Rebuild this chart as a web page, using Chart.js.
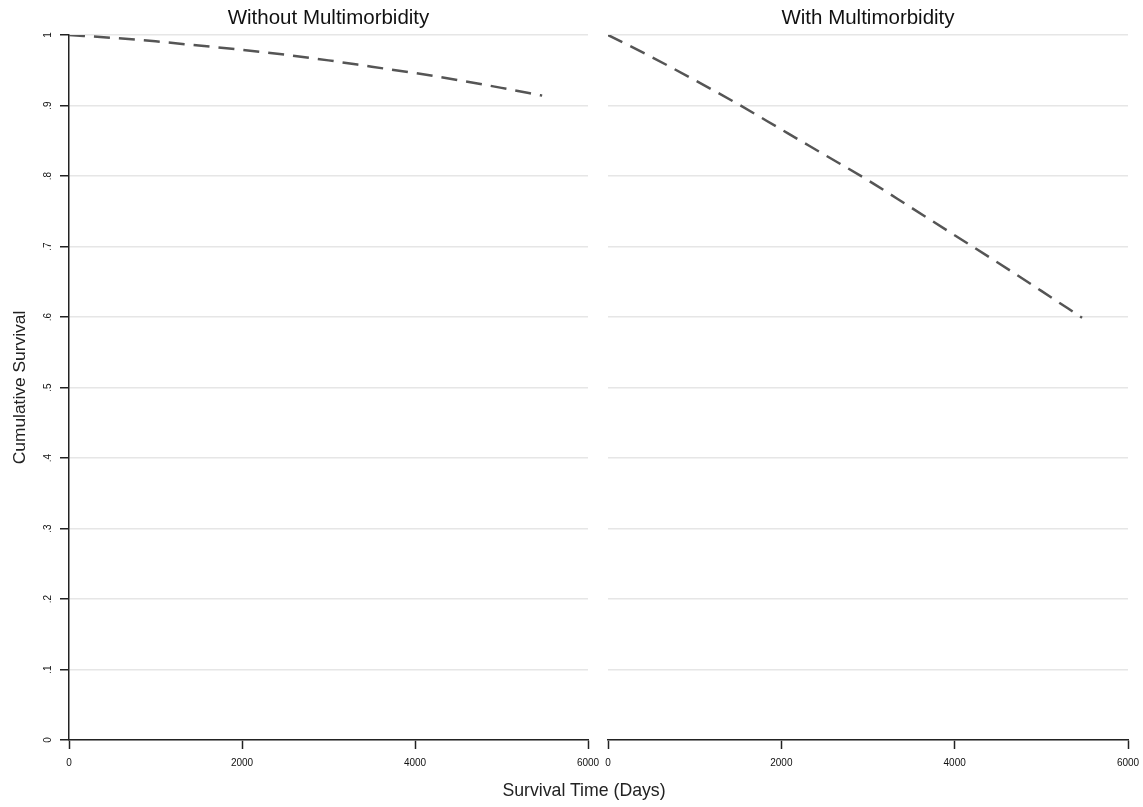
<!DOCTYPE html>
<html lang="en">
<head>
<meta charset="UTF-8">
<title>Cumulative Survival</title>
<script src="https://cdn.jsdelivr.net/npm/chart.js"></script>
<style>
    html, body { margin: 0; padding: 0; background: #fff; }
    body { width: 1143px; height: 807px; position: relative; overflow: hidden; font-family: Arial, "Liberation Sans", sans-serif; }
    canvas { position: absolute; top: 0; }
    #leftWrap { position: absolute; left: 0; top: 0; width: 600px; height: 807px; }
    #rightWrap { position: absolute; left: 596px; top: 0; width: 547px; height: 807px; }
    #xTitle { position: absolute; left: 0; width: 1168px; top: 780px; text-align: center; font-size: 17.7px; line-height: 20px; color: #222; }
</style>
</head>
<body>
<div id="leftWrap"><canvas id="leftChart"></canvas></div>
<div id="rightWrap"><canvas id="rightChart"></canvas></div>
<div id="xTitle">Survival Time (Days)</div>

<script>
    // --- data ---
    const panelTitles = ['Without Multimorbidity', 'With Multimorbidity'];
    const days = [0, 500, 1000, 1500, 2000, 2500, 3000, 3500, 4000, 4500, 5000, 5470];
    const survivalWithout = [1, 0.996, 0.991, 0.985, 0.979, 0.972, 0.964, 0.955, 0.946, 0.936, 0.925, 0.914];
    const survivalWith = [1, 0.969, 0.936, 0.902, 0.866, 0.830, 0.794, 0.755, 0.716, 0.677, 0.637, 0.599];
    const yTickValues = [0, 0.1, 0.2, 0.3, 0.4, 0.5, 0.6, 0.7, 0.8, 0.9, 1];
    const yTickLabels = ['0', '.1', '.2', '.3', '.4', '.5', '.6', '.7', '.8', '.9', '1'];
    const xTickValues = [0, 2000, 4000, 6000];
    const xTickLabels = ['0', '2000', '4000', '6000'];
    const yTitle = 'Cumulative Survival';

    const lineColor = '#555555';
    const gridColor = '#e6e6e6';
    const axisColor = '#222222';
    const fontFamily = 'Arial, "Liberation Sans", sans-serif';

    function toPoints(xs, ys) {
        return xs.map((x, i) => ({ x: x, y: ys[i] }));
    }

    // draws panel title, and for the left panel the rotated y tick labels + y title
    const panelText = {
        id: 'panelText',
        afterDraw(chart, args, opts) {
            const ctx = chart.ctx;
            const area = chart.chartArea;
            ctx.save();
            ctx.fillStyle = '#111';
            ctx.textAlign = 'center';
            ctx.textBaseline = 'middle';
            ctx.font = '20.5px ' + fontFamily;
            ctx.fillText(opts.title, (area.left + area.right) / 2, 18);

            if (opts.yLabels) {
                const ys = chart.scales.y;
                ctx.font = '10px ' + fontFamily;
                yTickValues.forEach((v, i) => {
                    const py = ys.getPixelForValue(v);
                    ctx.save();
                    ctx.translate(48, py);
                    ctx.rotate(-Math.PI / 2);
                    ctx.fillText(yTickLabels[i], 0, 0);
                    ctx.restore();
                });
                ctx.save();
                ctx.font = '17.4px ' + fontFamily;
                ctx.fillStyle = '#222';
                ctx.translate(20, (area.top + area.bottom) / 2);
                ctx.rotate(-Math.PI / 2);
                ctx.fillText(yTitle, 0, 0);
                ctx.restore();
            }
            ctx.restore();
        }
    };

    function makeChart(canvasId, values, title, isLeft) {
        const ctx = document.getElementById(canvasId).getContext('2d');
        return new Chart(ctx, {
            type: 'line',
            data: {
                datasets: [{
                    data: toPoints(days, values),
                    borderColor: lineColor,
                    borderWidth: 2.5,
                    borderDash: [16, 9],
                    pointRadius: 0,
                    fill: false,
                    cubicInterpolationMode: 'monotone'
                }]
            },
            options: {
                responsive: true,
                maintainAspectRatio: false,
                animation: false,
                layout: {
                    padding: isLeft
                        ? { left: 0, right: 12, top: 35, bottom: 37 }
                        : { left: 12, right: 15, top: 35, bottom: 37 }
                },
                plugins: {
                    legend: { display: false },
                    tooltip: { enabled: false },
                    panelText: { title: title, yLabels: isLeft }
                },
                scales: {
                    x: {
                        type: 'linear',
                        min: 0,
                        max: 6000,
                        afterBuildTicks: (scale) => { scale.ticks = xTickValues.map(v => ({ value: v })); },
                        afterFit: (scale) => { scale.height = 30; scale.paddingLeft = 0; scale.paddingRight = 0; },
                        ticks: {
                            color: '#111',
                            font: { size: 10, family: fontFamily },
                            padding: 8,
                            maxRotation: 0,
                            callback: (v) => xTickLabels[xTickValues.indexOf(v)]
                        },
                        grid: {
                            drawOnChartArea: false,
                            drawTicks: true,
                            tickLength: 9,
                            tickColor: axisColor,
                            tickWidth: 1.5
                        },
                        border: { display: true, color: axisColor, width: 1.5 }
                    },
                    y: {
                        type: 'linear',
                        min: 0,
                        max: 1,
                        afterBuildTicks: (scale) => { scale.ticks = yTickValues.map(v => ({ value: v })); },
                        afterFit: (scale) => { scale.width = isLeft ? 69 : 0; scale.paddingTop = 0; scale.paddingBottom = 0; },
                        ticks: { display: false },
                        grid: {
                            color: gridColor,
                            lineWidth: 1.5,
                            drawTicks: isLeft,
                            tickLength: 9,
                            tickColor: axisColor,
                            tickWidth: 1.5
                        },
                        border: { display: isLeft, color: axisColor, width: 1.5 }
                    }
                }
            },
            plugins: [panelText]
        });
    }

    makeChart('leftChart', survivalWithout, panelTitles[0], true);
    makeChart('rightChart', survivalWith, panelTitles[1], false);
</script>
</body>
</html>
